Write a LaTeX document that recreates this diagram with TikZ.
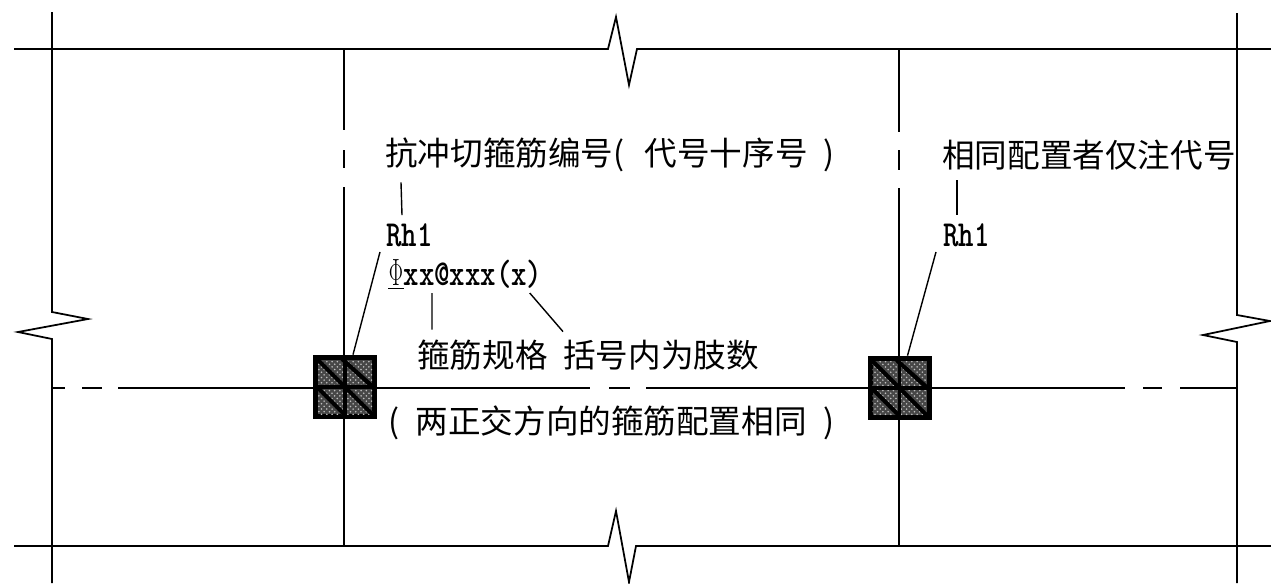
\documentclass[tikz,border=0pt]{standalone}
\usepackage{fontspec}
\newfontfamily\cjk{Noto Sans CJK SC}
\usetikzlibrary{patterns}
\usetikzlibrary{positioning}

\tikzset{
	label/.style={inner sep=0pt, anchor=west, font=\cjk\fontsize{18.55}{20}\selectfont},
	code/.style={inner sep=0pt, anchor=west, font=\ttfamily\bfseries\fontsize{16.7}{20}\selectfont},
	hub/.style={fill=black, inner sep=0pt, minimum size=1.28cm},
	wall/.style={line width=1pt},
	leader/.style={line width=0.8pt}
}

\begin{document}
\begin{tikzpicture}[x=0.02cm,y=0.02cm]
		\useasboundingbox (0,0) rectangle (1271,-583);
		% beams and columns
		\draw [wall] (14,-49) -- (608,-49) -- (616,-17) -- (629,-85) -- (637,-49) -- (1271,-49);
		\draw [wall] (14,-546) -- (608,-546) -- (616,-511) -- (629,-582) -- (636,-546) -- (1271,-546);
		\draw [wall] (52,-12) -- (52,-312) -- (88,-319) -- (18,-332) -- (52,-339) -- (52,-583);
		\draw [wall] (1237,-13) -- (1237,-315) -- (1270,-321) -- (1203,-335) -- (1237,-342) -- (1237,-583);
		\draw [wall] (344,-49) -- (344,-130);
		\draw [wall] (344,-150) -- (344,-168);
		\draw [wall] (344,-187) -- (344,-546);
		\draw [wall] (899,-49) -- (899,-132);
		\draw [wall] (899,-150) -- (899,-170);
		\draw [wall] (899,-188) -- (899,-546);
		\draw [wall] (52,-388) -- (65,-388);
		\draw [wall] (82,-388) -- (102,-388);
		\draw [wall] (118,-388) -- (590,-388);
		\draw [wall] (609,-388) -- (630,-388);
		\draw [wall] (646,-388) -- (1125,-388);
		\draw [wall] (1143,-388) -- (1162,-388);
		\draw [wall] (1180,-388) -- (1237,-388);
		% column heads
		\node [hub] (headA) at (345,-387) {};
		\node [hub] (headB) at (899.5,-388) {};
		\foreach \head in {headA,headB} {
			\begin{scope}[shift={(\head)}]
				\fill [black!72] (-27,-27) rectangle (27,27);
				\fill [pattern=crosshatch dots, pattern color=black!25] (-27,-27) rectangle (27,27);
				\draw [line width=2.4pt] (-3,28) -- (28,0) (-28,28) -- (0,0) -- (28,-28) (-28,0) -- (0,-28);
				\draw [line width=2pt] (-30,0) -- (30,0) (0,-30) -- (0,30);
			\end{scope}
		}
		% notes
		\node [label] (shearNote) at (385,-155) {抗冲切箍筋编号(\hspace{.62em}代号十序号\hspace{.5em})};
		\node [label] (sameNote) at (942,-155) {相同配置者仅注代号};
		\node [code] (markA) at (386,-235) {\scalebox{1}[1.25]{Rh1}};
		\node [code] (markB) at (943,-235) {\scalebox{1}[1.25]{Rh1}};
		\node [code] (spec) at (388,-275) {\scalebox{1}[1.25]{\underline{\makebox[.525em]{\scalebox{.7}[1]{$\Phi$}}}xx@xxx(x)}};
		\node [label] (sizeNote) at (417,-355) {箍筋规格};
		\node [label] (legNote) at (563,-355) {括号内为肢数};
		\node [label] (bothNote) at (388,-423) {(\hspace{.5em}两正交方向的箍筋配置相同\hspace{.5em})};
		% leaders
		\draw [leader] ([xshift=0.32cm,yshift=-0.2cm]shearNote.south west) -- ([xshift=0.32cm,yshift=0.16cm]markA.north west);
		\draw [leader] ([xshift=0.3cm,yshift=-0.2cm]sameNote.south west) -- ([xshift=0.28cm,yshift=0.16cm]markB.north west);
		\draw [leader] ([xshift=-0.12cm,yshift=-0.1cm]markA.south west) -- ([xshift=0.16cm]headA.north);
		\draw [leader] ([xshift=-0.14cm,yshift=-0.1cm]markB.south west) -- ([xshift=0.16cm]headB.north);
		\draw [leader] ([xshift=0.88cm,yshift=-0.05cm]spec.south west) -- ([xshift=0.3cm,yshift=0.2cm]sizeNote.north west);
		\draw [leader] ([xshift=-0.26cm,yshift=-0.05cm]spec.south east) -- ([yshift=0.16cm]legNote.north west);
		\end{tikzpicture}
\end{document}
